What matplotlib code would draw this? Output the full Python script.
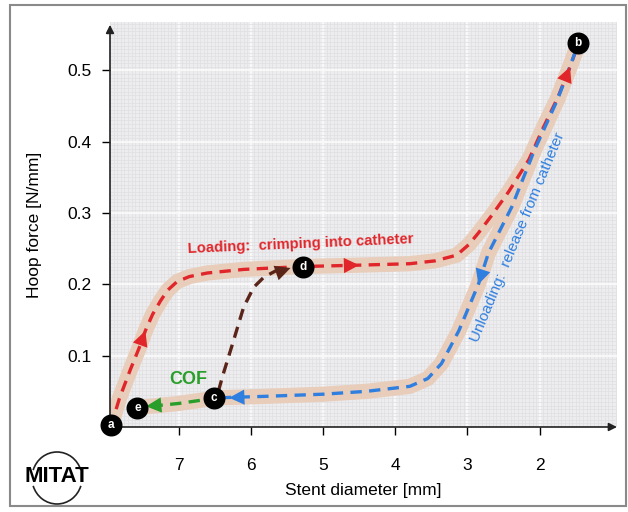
"""Hoop force vs stent diameter: crimping / release hysteresis sketch."""

import matplotlib

matplotlib.use("Agg")
from matplotlib import pyplot as plt
from matplotlib.patches import Arc, Rectangle
from matplotlib.ticker import MultipleLocator

# loading: a -> d -> b (crimping into catheter)
load_x = [7.94, 7.82, 7.67, 7.55, 7.46, 7.36, 7.25, 7.15, 7.02, 6.85, 6.6, 6.1, 5.3,
          4.5, 3.8, 3.45, 3.15, 2.98, 2.85, 2.67, 2.43, 2.15, 1.95, 1.75, 1.58, 1.5]
load_y = [0.0, 0.04, 0.08, 0.11, 0.135, 0.158, 0.177, 0.192, 0.204, 0.211, 0.216, 0.221, 0.225,
          0.227, 0.229, 0.233, 0.241, 0.256, 0.272, 0.296, 0.33, 0.375, 0.42, 0.462, 0.505, 0.528]

# unloading: b -> c (release from catheter)
unload_x = [1.5, 1.75, 2.07, 2.39, 2.71, 2.85, 3.12, 3.36, 3.55, 3.8, 4.4, 5.0, 5.8, 6.45]
unload_y = [0.528, 0.46, 0.389, 0.308, 0.244, 0.2, 0.135, 0.089, 0.068, 0.057, 0.05, 0.046, 0.043, 0.041]

# chronic outward force: c -> e
cof_x = [6.45, 7.0, 7.5]
cof_y = [0.041, 0.033, 0.028]

# re-crimp: c -> d
recrimp_x = [6.45, 6.38, 6.24, 6.1, 5.96, 5.82, 5.6]
recrimp_y = [0.05, 0.075, 0.121, 0.168, 0.196, 0.21, 0.222]

point_names = ["a", "b", "c", "d", "e"]
point_x = [7.94, 1.47, 6.51, 5.28, 7.57]
point_y = [0.003, 0.539, 0.041, 0.225, 0.027]

RED = "#e0262a"
BLUE = "#2f7fe0"
GREEN = "#2a9e2a"
BROWN = "#5a2518"
BAND = "#e9cdbb"

plt.rcParams["font.family"] = ["Liberation Sans", "DejaVu Sans"]

fig = plt.figure(figsize=(6.28, 5.12), dpi=100)
ax = fig.add_axes([110 / 628, 1 - 427 / 512, (617 - 110) / 628, (427 - 22) / 512])
ax.set_facecolor("#ededef")
ax.set_xlim(7.95, 0.93)
ax.set_ylim(0, 0.568)

ax.xaxis.set_major_locator(MultipleLocator(1))
ax.yaxis.set_major_locator(MultipleLocator(0.1))
ax.xaxis.set_minor_locator(MultipleLocator(0.05))
ax.yaxis.set_minor_locator(MultipleLocator(0.005))
ax.grid(which="minor", color="#dfdfe3", lw=0.5, zorder=0)
ax.grid(which="major", color="#fafafa", lw=1.3, zorder=0)
ax.tick_params(which="minor", length=0)
ax.tick_params(which="major", length=6, width=1, labelsize=12.5)
ax.tick_params(axis="x", pad=16)
ax.tick_params(axis="y", pad=7)
ax.set_xticks([7, 6, 5, 4, 3, 2])
ax.set_yticks([0.1, 0.2, 0.3, 0.4, 0.5])
ax.set_yticklabels(["0.1", "0.2", "0.3", "0.4", "0.5"])
for s in ["top", "right", "left", "bottom"]:
    ax.spines[s].set_visible(False)

# axis arrows
ax.annotate("", xy=(1.0, 0), xytext=(0, 0), xycoords="axes fraction",
            arrowprops=dict(arrowstyle="-|>", lw=1.2, color="#222222", mutation_scale=12, shrinkA=0, shrinkB=0))
ax.annotate("", xy=(0, 0.993), xytext=(0, 0), xycoords="axes fraction",
            arrowprops=dict(arrowstyle="-|>", lw=1.2, color="#222222", mutation_scale=12, shrinkA=0, shrinkB=0))

# light band under the hysteresis loop
band_x = load_x + unload_x[1:] + cof_x[1:]
band_y = load_y + unload_y[1:] + cof_y[1:]
ax.plot(band_x, band_y, color=BAND, lw=11, solid_capstyle="round", solid_joinstyle="round", zorder=2)

dash = dict(lw=2.4, dashes=(3.4, 2.2), zorder=3)
ax.plot(load_x, load_y, color=RED, **dash)
ax.plot(unload_x, unload_y, color=BLUE, **dash)
ax.plot(cof_x, cof_y, color=GREEN, **dash)
ax.plot(recrimp_x, recrimp_y, color=BROWN, **dash)


def head(tip, tail, color):
    ax.annotate("", xy=tip, xytext=tail,
                arrowprops=dict(arrowstyle="-|>,head_length=0.5,head_width=0.25", lw=0,
                                color=color, mutation_scale=22, shrinkA=0, shrinkB=0), zorder=4)


head((load_x[4], load_y[4]), (load_x[3], load_y[3]), RED)
head((load_x[13], load_y[13]), (load_x[12], load_y[12]), RED)
head((load_x[24], load_y[24]), (load_x[23], load_y[23]), RED)
head((unload_x[5], unload_y[5]), (unload_x[4], unload_y[4]), BLUE)
head((6.3, 0.041), (unload_x[12], unload_y[12]), BLUE)
head((7.45, 0.029), (cof_x[1], cof_y[1]), GREEN)
head((5.45, 0.223), (recrimp_x[5], recrimp_y[5]), BROWN)

ax.scatter(point_x, point_y, s=220, color="black", zorder=5, clip_on=False)
for name, x, y in zip(point_names, point_x, point_y):
    ax.text(x, y, name, color="white", fontsize=8.5, fontweight="bold",
            ha="center", va="center", zorder=6)

ax.text(5.31, 0.256, "Loading:  crimping into catheter", color=RED, fontsize=10.7,
        fontweight="bold", rotation=2.5, ha="center", va="center", zorder=6)
ax.text(2.31, 0.266, "Unloading:  release from catheter", color=BLUE, fontsize=11,
        rotation=67.5, ha="center", va="center", zorder=6)
ax.text(6.86, 0.066, "COF", color=GREEN, fontsize=13, fontweight="bold",
        ha="center", va="center", zorder=6)

fig.text(363 / 628, 1 - 490 / 512, "Stent diameter [mm]", fontsize=12.5, ha="center", va="center")
fig.text(35 / 628, 1 - 225 / 512, "Hoop force [N/mm]", fontsize=12.5, ha="center", va="center",
         rotation=90)

# MITAT logo
fig.text(57 / 628, 1 - 477 / 512, "MITAT", fontsize=16, fontweight="bold", ha="center", va="center")
cx, cy = 57 / 628, 1 - 478 / 512
for t1, t2 in [(22, 158), (202, 338)]:
    fig.patches.append(Arc((cx, cy), 50 / 628, 52 / 512, theta1=t1, theta2=t2,
                           transform=fig.transFigure, lw=1.2, color="#222222"))

fig.patches.append(Rectangle((10 / 628, 1 - 506 / 512), 616 / 628, 501 / 512, fill=False,
                             edgecolor="#8a8a8a", lw=1.5, transform=fig.transFigure))

fig.savefig("out.png", dpi=100)
